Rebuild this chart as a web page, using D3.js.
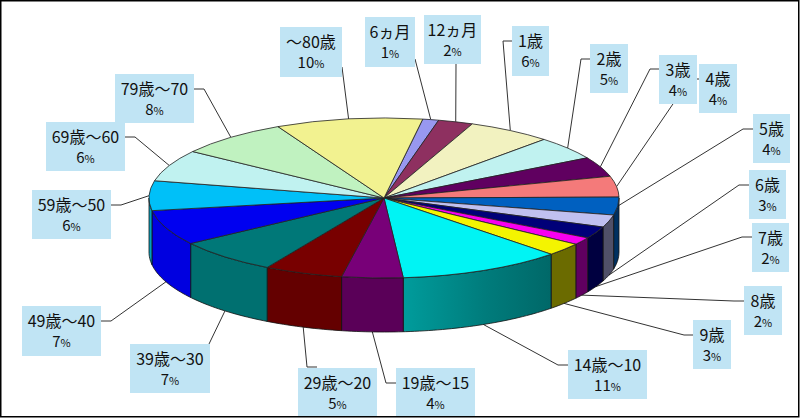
<!DOCTYPE html>
<html>
<head>
<meta charset="utf-8">
<script src="https://cdn.jsdelivr.net/npm/d3@7"></script>
<style>
  html, body { margin: 0; padding: 0; background: #fff; overflow: hidden; }
  svg { display: block; }
  text { font-family: "Noto Sans CJK JP", sans-serif; fill: #111; text-anchor: middle; }
</style>
</head>
<body>
<svg id="chart" width="800" height="418"></svg>
<script>
// data
var categories = ["6ヵ月", "12ヵ月", "1歳", "2歳", "3歳", "4歳", "5歳", "6歳", "7歳", "8歳", "9歳",
  "14歳～10", "19歳～15", "29歳～20", "39歳～30", "49歳～40", "59歳～50", "69歳～60", "79歳～70", "～80歳"];
var values = [1.1, 2.4, 5.8, 4.7, 4.0, 4.2, 3.6, 2.5, 2.4, 1.5, 2.6,
  11.3, 4.2, 5.4, 7.1, 7.1, 6.0, 6.4, 7.7, 10.1];

// colours
var topColors = ["#9898f0", "#8e3060", "#f2f2c0", "#c0f2f0", "#600060", "#f47a7a", "#0060c0", "#c0c0f0", "#000078", "#f800f0", "#f4f400",
  "#00f4f4", "#780078", "#780000", "#007878", "#0000f0", "#00c0f8", "#c0f2f0", "#c0f2c0", "#f2f290"];
var sideColors = ["#000", "#000", "#000", "#000", "#000", "#000", "#003060", "#505068", "#000040", "#600060", "#6b6b00",
  "url(#wallCyan)", "#5a0058", "#640000", "#007070", "#0000e0", "#00a0c0", "#000", "#000", "#000"];

// label boxes: x, y, w, h, then the elbow of the leader line and where the line leaves the box
var labelBoxes = [
  [365, 17, 50, 50, null, [415, 59]],
  [424, 15, 57, 49, null, [456, 64]],
  [512, 26, 37, 50, [503, 41], [512, 41]],
  [590, 44, 38, 49, [581, 59], [590, 59]],
  [659, 55, 38, 49, [650, 69], [659, 69]],
  [699, 64, 38, 49, [690, 79], [699, 79]],
  [753, 114, 37, 49, [743, 129], [753, 129]],
  [749, 170, 37, 49, [739, 185], [749, 185]],
  [752, 223, 37, 49, [742, 237], [752, 237]],
  [744, 286, 38, 49, [734, 301], [744, 301]],
  [693, 320, 38, 49, [684, 335], [693, 335]],
  [568, 350, 79, 49, [558, 365], [568, 365]],
  [396, 368, 79, 49, [386, 383], [396, 383]],
  [298, 368, 79, 49, [307, 367], [317, 367]],
  [130, 344, 80, 49, null, [209, 344]],
  [22, 306, 79, 50, [111, 321], [101, 321]],
  [32, 190, 79, 49, [121, 205], [111, 205]],
  [46, 122, 79, 49, [135, 137], [125, 137]],
  [115, 74, 79, 49, [204, 89], [194, 89]],
  [280, 27, 62, 50, null, [342, 67]]
];

var width = 800, height = 418,
  cx = 384, cy = 198,
  rx = 235, ry = 80,
  depth = 54,
  deg = Math.PI / 180;

var svg = d3.select("#chart");

var defs = svg.append("defs");
var grad = defs.append("linearGradient").attr("id", "wallCyan");
grad.append("stop").attr("offset", "0%").attr("stop-color", "#009c9c");
grad.append("stop").attr("offset", "55%").attr("stop-color", "#007c7c");
grad.append("stop").attr("offset", "100%").attr("stop-color", "#006868");

// first slice starts a little right of 12 o'clock
var pie = d3.pie().sort(null).value(function (d) { return d; })
  .startAngle(9.5 * deg).endAngle(369.5 * deg);
var slices = pie(values);

function project(a, dy) {
  return [cx + rx * Math.sin(a), cy - ry * Math.cos(a) + dy];
}

// leader lines go under the pie
var leader = d3.line();
svg.append("g").selectAll("path")
  .data(slices)
  .enter().append("path")
  .attr("fill", "none")
  .attr("stroke", "#333")
  .attr("stroke-width", 1)
  .attr("d", function (d, i) {
    var mid = (d.startAngle + d.endAngle) / 2;
    var dy = (mid > 100 * deg && mid < 270 * deg) ? depth : 0;
    var b = labelBoxes[i];
    var pts = [project(mid, dy)];
    if (b[4]) pts.push(b[4]);
    pts.push(b[5]);
    return leader(pts);
  });

// side wall, only the front half shows
var wall = d3.line();
svg.append("g").selectAll("path")
  .data(slices.filter(function (d) { return d.startAngle < 270 * deg && d.endAngle > 90 * deg; }))
  .enter().append("path")
  .attr("fill", function (d) { return sideColors[d.index]; })
  .attr("stroke", "#111")
  .attr("stroke-width", 0.8)
  .attr("d", function (d) {
    var a0 = Math.max(d.startAngle, 90 * deg), a1 = Math.min(d.endAngle, 270 * deg);
    var angles = d3.range(a0, a1, 0.02).concat([a1]);
    var upper = angles.map(function (a) { return project(a, 0); });
    var lower = angles.slice().reverse().map(function (a) { return project(a, depth); });
    return wall(upper.concat(lower)) + "Z";
  });

// top face: circle arcs squashed to an ellipse
var arc = d3.arc().innerRadius(0).outerRadius(rx);
svg.append("g")
  .attr("transform", "translate(" + cx + "," + cy + ") scale(1," + (ry / rx) + ")")
  .selectAll("path")
  .data(slices)
  .enter().append("path")
  .attr("d", arc)
  .attr("fill", function (d, i) { return topColors[i]; })
  .attr("stroke", "#222")
  .attr("stroke-width", 0.8)
  .attr("vector-effect", "non-scaling-stroke");

// labels
var label = svg.append("g").selectAll("g")
  .data(categories)
  .enter().append("g");

label.append("rect")
  .attr("x", function (d, i) { return labelBoxes[i][0]; })
  .attr("y", function (d, i) { return labelBoxes[i][1]; })
  .attr("width", function (d, i) { return labelBoxes[i][2]; })
  .attr("height", function (d, i) { return labelBoxes[i][3]; })
  .attr("fill", "#c0e4f4");

// one text per label, the percent is its second line
var labelText = label.append("text")
  .attr("x", function (d, i) { return labelBoxes[i][0] + labelBoxes[i][2] / 2; })
  .attr("y", function (d, i) { return labelBoxes[i][1] + 21; })
  .attr("font-size", 16);
labelText.append("tspan").text(function (d) { return d; });
labelText.append("tspan")
  .attr("x", function (d, i) { return labelBoxes[i][0] + labelBoxes[i][2] / 2; })
  .attr("dy", 20)
  .attr("font-size", 15)
  .text(function (d, i) { return Math.round(values[i]); });
labelText.append("tspan").attr("font-size", 11).text("%");

// outer border
svg.append("rect")
  .attr("x", 0.75).attr("y", 0.75)
  .attr("width", width - 2).attr("height", height - 2)
  .attr("fill", "none")
  .attr("stroke", "#000")
  .attr("stroke-width", 1.5);
</script>
</body>
</html>
